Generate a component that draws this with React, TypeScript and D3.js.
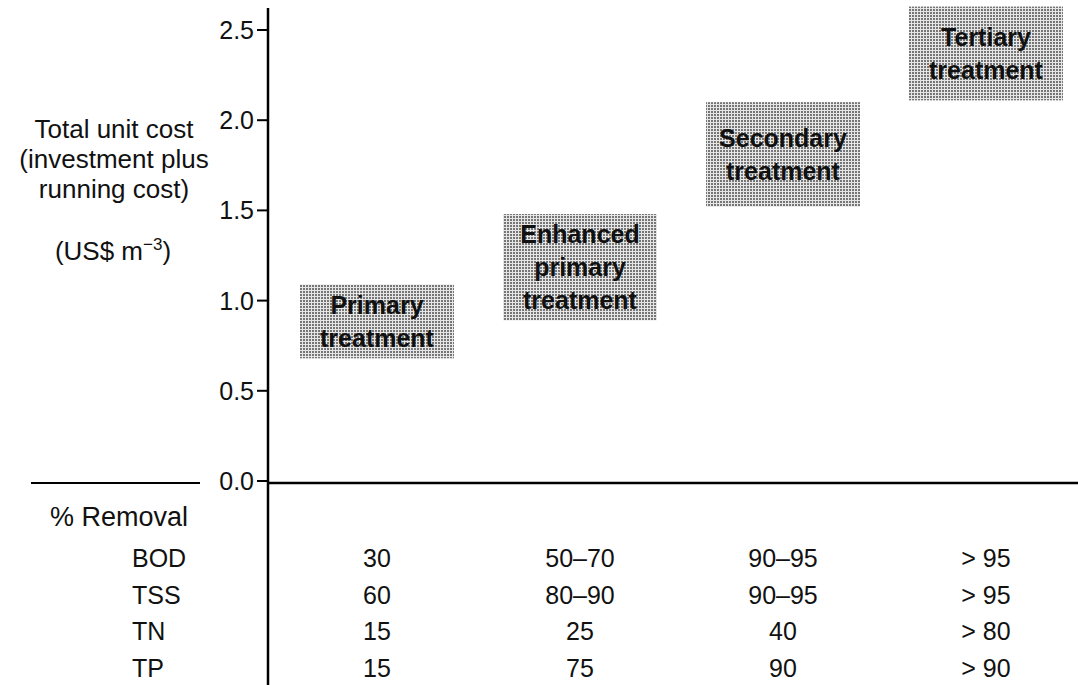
import * as d3 from "d3";

// treatment levels (x categories) and the cost range each box spans, US$ per m3
const treatments = ["Primary", "Enhanced primary", "Secondary", "Tertiary"];
const boxLabels = [
  ["Primary", "treatment"],
  ["Enhanced", "primary", "treatment"],
  ["Secondary", "treatment"],
  ["Tertiary", "treatment"],
];
const costLow = [0.68, 0.89, 1.52, 2.11];
const costHigh = [1.09, 1.48, 2.1, 2.63];

const yTicks = [0, 0.5, 1.0, 1.5, 2.0, 2.5];

// % removal table
const pollutants = ["BOD", "TSS", "TN", "TP"];
const removal = [
  ["30", "50–70", "90–95", "> 95"],
  ["60", "80–90", "90–95", "> 95"],
  ["15", "25", "40", "> 80"],
  ["15", "75", "90", "> 90"],
];

const yLabelLines = ["Total unit cost", "(investment plus", "running cost)"];

const W = 1078;
const H = 685;
const FONT = "'Liberation Sans', Arial, Helvetica, sans-serif";

export default function App() {
  const axisX = 268;
  const y = d3.scaleLinear().domain([0, 2.5]).range([481, 30]);
  const x = d3.scalePoint<string>().domain(treatments).range([377, 986]);
  const row = d3.scalePoint<string>().domain(pollutants).range([567, 677]);
  const fmt = d3.format(".1f");
  const boxW = 154;
  const lineGap = 33;

  return (
    <svg
      width={W}
      height={H}
      style={{ position: "absolute", left: 0, top: 0, background: "#fff" }}
      fontFamily={FONT}
    >
      <defs>
        <pattern id="halftone" width={3} height={3} patternUnits="userSpaceOnUse">
          <rect width={3} height={3} fill="#e6e6e6" />
          <rect width={2} height={2} fill="#767676" />
        </pattern>
      </defs>
      <rect width={W} height={H} fill="#fff" />

      {/* y axis title */}
      <g fontSize={26} fill="#111" textAnchor="middle">
        {yLabelLines.map((t, i) => (
          <text key={t} x={114} y={138 + i * 30}>
            {t}
          </text>
        ))}
        <text x={113} y={260}>
          (US$ m
          <tspan dy={-10} fontSize={17}>
            −3
          </tspan>
          <tspan dy={10}>)</tspan>
        </text>
      </g>

      {/* y axis */}
      <line x1={axisX} x2={axisX} y1={8} y2={H} stroke="#000" strokeWidth={2.5} />
      {yTicks.map((t) => (
        <g key={t} transform={`translate(0,${y(t)})`}>
          <line x1={axisX - 11} x2={axisX} stroke="#000" strokeWidth={2} />
          <text x={axisX - 14} dy="0.36em" textAnchor="end" fontSize={25} fill="#111">
            {fmt(t)}
          </text>
        </g>
      ))}

      {/* zero baseline, with the short stretch left of the label */}
      <line x1={31} x2={200} y1={y(0) + 2} y2={y(0) + 2} stroke="#000" strokeWidth={2} />
      <line x1={axisX} x2={W} y1={y(0) + 2} y2={y(0) + 2} stroke="#000" strokeWidth={2.5} />

      {/* treatment boxes */}
      {treatments.map((tr, i) => {
        const cx = x(tr) as number;
        const top = y(costHigh[i]);
        const bottom = y(costLow[i]);
        const cy = (top + bottom) / 2;
        const lines = boxLabels[i];
        return (
          <g key={tr}>
            <rect
              x={cx - boxW / 2}
              y={top}
              width={boxW}
              height={bottom - top}
              fill="url(#halftone)"
            />
            {lines.map((l, j) => (
              <text
                key={l}
                x={cx}
                y={cy - ((lines.length - 1) * lineGap) / 2 + j * lineGap + 9}
                textAnchor="middle"
                fontSize={25}
                fontWeight="bold"
                fill="#111"
              >
                {l}
              </text>
            ))}
          </g>
        );
      })}

      {/* removal table */}
      <text x={50} y={526} fontSize={27} fill="#111">
        % Removal
      </text>
      {pollutants.map((p, r) => (
        <g key={p} fontSize={25} fill="#111">
          <text x={132} y={row(p)}>
            {p}
          </text>
          {treatments.map((tr, c) => (
            <text key={tr} x={x(tr)} y={row(p)} textAnchor="middle">
              {removal[r][c]}
            </text>
          ))}
        </g>
      ))}
    </svg>
  );
}
